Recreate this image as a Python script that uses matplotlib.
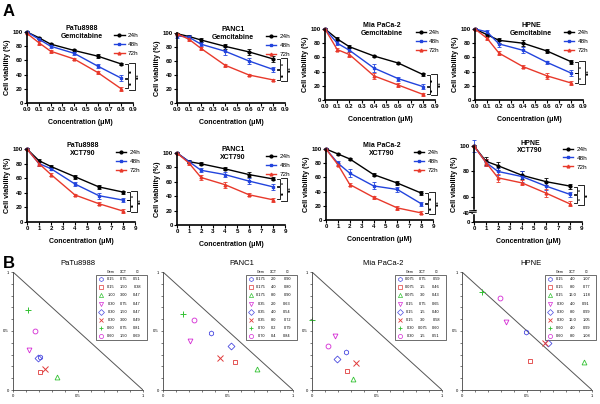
import matplotlib.pyplot as plt
from matplotlib.patches import Rectangle
import numpy as np

plt.rcParams['font.family'] = ['Liberation Sans', 'DejaVu Sans']

cells = ["PaTu8988", "PANC1", "Mia PaCa-2", "HPNE"]
times = ["24h", "48h", "72h"]

# ---- panel A data: cell viability (%) ----
gem_conc = [0, 0.1, 0.2, 0.4, 0.6, 0.8]
xct_conc = [0, 1, 2, 4, 6, 8]

# one row per cell line (PaTu8988, PANC1, Mia PaCa-2, HPNE)
gem_24h = [[100, 92, 83, 74, 66, 55],
           [99, 95, 90, 81, 73, 63],
           [100, 86, 75, 62, 52, 36],
           [100, 92, 84, 80, 69, 54]]
gem_48h = [[100, 90, 80, 70, 52, 35],
           [96, 94, 84, 74, 60, 48],
           [100, 80, 70, 45, 30, 19],
           [100, 96, 79, 70, 53, 38]]
gem_72h = [[98, 85, 73, 62, 43, 20],
           [99, 91, 78, 54, 40, 33],
           [100, 71, 64, 34, 21, 8],
           [100, 87, 66, 47, 34, 24]]
gem_24h_err = [[1, 1.5, 2, 2, 3, 2], [1, 2, 3, 4, 4, 4], [1, 3, 2, 2, 1.5, 2], [1, 3, 4, 4, 3, 3]]
gem_48h_err = [[1, 2, 2, 2.5, 3, 4], [3, 3, 3, 6, 4, 4], [1, 3, 3, 6, 3, 3], [1, 3, 4, 4, 2.5, 4]]
gem_72h_err = [[1, 3, 2, 2, 2, 2.5], [1, 2, 2, 2, 2, 2], [1, 2, 3, 4, 3, 2], [1, 3, 3, 2.5, 4, 3]]

xct_24h = [[100, 84, 76, 62, 48, 41],
           [100, 88, 85, 78, 70, 64],
           [100, 93, 86, 64, 52, 38],
           [100, 88, 84.5, 77, 72, 68.5]]
xct_48h = [[100, 80, 73, 52, 36, 30],
           [100, 88, 76, 70, 61, 53],
           [100, 80, 66, 48, 43, 23],
           [100, 87, 80, 76, 68.5, 62]]
xct_72h = [[100, 80, 65, 37, 25, 15],
           [100, 86, 66, 56, 42, 35],
           [100, 78, 50, 32, 17, 10],
           [100, 87, 75, 71, 63, 54.5]]
xct_24h_err = [[1, 2, 2, 2.5, 3, 2], [1, 2, 2, 2, 3, 2], [1, 2, 2, 2, 3, 3], [1, 3, 3, 3, 3, 2]]
xct_48h_err = [[1, 3, 2, 3, 4, 3], [1, 2, 3, 4, 4, 4], [1, 3, 6, 5, 3, 3], [5, 3, 3, 4, 3, 2]]
xct_72h_err = [[1, 3, 2, 2, 2, 3], [1, 2, 3, 4, 2, 3], [1, 2, 2, 2, 3, 2], [1, 3, 3, 2, 3, 2]]

gem_stars = [["**", "**", "***"], ["*", "**", "***"], ["**", "**", "***"], ["*", "*", "***"]]
xct_stars = [["*", "**", "***"], ["*", "**", "***"], ["**", "**", "***"], ["*", "*", "**"]]

# ---- panel B data: isobolograms ----
table_gem = [["0.15", "0.15", "1.00", "0.30", "0.30", "0.30", "0.60", "0.60"],
             ["0.175", "0.175", "0.175", "0.35", "0.35", "0.35", "0.70", "0.70"],
             ["0.075", "0.075", "0.075", "0.15", "0.15", "0.15", "0.30", "0.30"],
             ["0.15", "0.15", "0.15", "0.30", "0.30", "0.30", "0.60", "0.60"]]
table_xct = [["0.75", "1.50", "3.00", "0.75", "1.50", "3.00", "0.75", "1.50"],
             ["2.0", "4.0", "8.0", "2.0", "4.0", "8.0", "0.2", "0.4"],
             ["0.75", "1.5", "3.0", "0.75", "1.5", "3.0", "0.075", "1.5"],
             ["4.0", "8.0", "16.0", "4.0", "8.0", "16.0", "4.0", "8.0"]]
table_ci = [[0.51, 0.38, 0.47, 0.47, 0.47, 0.49, 0.81, 0.69],
            [0.90, 0.80, 0.90, 0.63, 0.54, 0.72, 0.79, 0.84],
            [0.59, 0.46, 0.43, 0.65, 0.40, 0.58, 0.60, 0.51],
            [1.07, 0.77, 1.18, 0.91, 0.99, 1.05, 0.99, 1.08]]
iso_x = [[0.21, 0.21, 0.34, 0.12, 0.19, 0.245, 0.115, 0.17],
         [0.37, 0.55, 0.72, 0.21, 0.52, 0.44, 0.15, 0.24],
         [0.26, 0.266, 0.315, 0.175, 0.19, 0.336, 0.0, 0.124],
         [0.49, 0.52, 0.94, 0.336, 0.66, 0.64, 0.155, 0.29]]
iso_y = [[0.28, 0.15, 0.11, 0.34, 0.27, 0.175, 0.68, 0.50],
         [0.48, 0.24, 0.175, 0.415, 0.376, 0.27, 0.64, 0.59],
         [0.32, 0.165, 0.09, 0.46, 0.26, 0.23, 0.59, 0.37],
         [0.49, 0.25, 0.24, 0.58, 0.40, 0.40, 0.83, 0.78]]

line_colors = ["black", "#2244dd", "#e8392b"]
line_markers = ["o", "s", "^"]
iso_markers = ["h", "s", "^", "v", "D", "x", "+", "o"]
iso_colors = ["#4a4ae0", "#e03a3a", "#33c233", "#d42ad4", "#4a4ae0", "#e03a3a", "#33c233", "#d42ad4"]

fig = plt.figure(figsize=(6, 4.04), dpi=100)


def pos(l, r, t, b):
    return [l / 600, 1 - b / 404, (r - l) / 600, (b - t) / 404]


gem_boxes = [(27, 133, 32, 103), (177, 285, 33, 103), (325, 435, 29, 100), (475, 583, 29, 100)]
xct_boxes = [(27, 135, 149, 222), (177, 285, 153, 225), (326, 433, 149, 220), (474, 582, 146, 222)]
iso_left = [13, 163, 312, 462]
iso_title_x = [0.5, 0.61, 0.55, 0.53]


def hpne_fwd(y):
    y = np.asarray(y, dtype=float)
    return np.where(y < 40, y * 7.1 / 40, np.where(y < 50, 7.1 + (y - 40) * 0.26, 9.7 + (y - 50)))


def hpne_inv(v):
    v = np.asarray(v, dtype=float)
    return np.where(v < 7.1, v * 40 / 7.1, np.where(v < 9.7, 40 + (v - 7.1) / 0.26, 50 + (v - 9.7)))


def add_brackets(ax, top, mid, bot, stars):
    tr = ax.get_yaxis_transform()
    kw = dict(color="black", lw=0.6, transform=tr, clip_on=False)
    for (y1, y2), s in zip([(top, mid), (mid, bot)], stars[:2]):
        ax.plot([0.925, 0.955, 0.955, 0.925], [y1 - 0.5, y1 - 0.5, y2 + 0.5, y2 + 0.5], **kw)
        ax.text(0.99, (y1 + y2) / 2, s, rotation=90, fontsize=3.5, ha="center", va="center",
                transform=tr, fontweight="bold")
    ax.plot([0.965, 1.02, 1.02, 0.965], [top + 1, top + 1, bot - 1, bot - 1], **kw)
    ax.text(1.06, (top + bot) / 2, stars[2], rotation=90, fontsize=3.5, ha="center", va="center",
            transform=tr, fontweight="bold")


def viability_panel(box, conc, means, errs, title, stars, xmax, xticks, xlabels, broken=False):
    ax = fig.add_axes(pos(*box))
    handles = []
    for m, e, c, mk in zip(means, errs, line_colors, line_markers):
        eb = ax.errorbar(conc, m, yerr=e, color=c, marker=mk, markersize=2, lw=1,
                         elinewidth=0.6, capsize=1.3, capthick=0.6, clip_on=False)
        handles.append(eb[0])
    if broken:
        ax.set_yscale("function", functions=(hpne_fwd, hpne_inv))
        ax.set_yticks([0, 40, 60, 80, 100])
        tr = ax.get_yaxis_transform()
        ax.plot([0, 0], [42, 47], color="white", lw=2.5, transform=tr, clip_on=False, zorder=5)
        for yb in (42, 47):
            ax.plot([-0.04, 0.02], [yb - 0.6, yb + 0.6], color="black", lw=0.8,
                    transform=tr, clip_on=False, zorder=6)
    else:
        ax.set_yticks([0, 20, 40, 60, 80, 100])
    ax.set_xlim(0, xmax)
    ax.set_ylim(0, 100)
    ax.set_xticks(xticks)
    ax.set_xticklabels(xlabels)
    ax.spines[["top", "right"]].set_visible(False)
    ax.spines[["left", "bottom"]].set_linewidth(1.2)
    ax.tick_params(length=2, width=0.8, labelsize=4.4, pad=1)
    for lab in ax.get_xticklabels() + ax.get_yticklabels():
        lab.set_fontweight("bold")
    ax.set_ylabel("Cell viability (%)", fontsize=5.2, fontweight="bold", labelpad=1.5)
    ax.set_xlabel("Concentration (\u03bcM)", fontsize=5, fontweight="bold", labelpad=5)
    ax.text(0.52, 0.99, title, transform=ax.transAxes, ha="center", va="center",
            fontsize=5, fontweight="bold", linespacing=1.1)
    ax.legend(handles, times, loc="upper left", bbox_to_anchor=(0.8, 1.03), frameon=False,
              fontsize=4.6, handlelength=1.6, handletextpad=0.5, labelspacing=0.55,
              borderaxespad=0)
    add_brackets(ax, means[0][-1], means[1][-1], means[2][-1], stars)
    return ax


fig.text(0.005, 0.99, "A", fontsize=12, fontweight="bold", va="top")
fig.text(0.005, 1 - 256 / 404, "B", fontsize=12, fontweight="bold", va="top")

gem_labels = ["0.0", "0.1", "0.2", "0.3", "0.4", "0.5", "0.6", "0.7", "0.8", "0.9"]
xct_labels = [str(i) for i in range(10)]

for i, cell in enumerate(cells):
    viability_panel(gem_boxes[i], gem_conc, [gem_24h[i], gem_48h[i], gem_72h[i]],
                    [gem_24h_err[i], gem_48h_err[i], gem_72h_err[i]],
                    cell + "\nGemcitabine", gem_stars[i], 0.9,
                    np.arange(0, 0.91, 0.1), gem_labels)
    viability_panel(xct_boxes[i], xct_conc, [xct_24h[i], xct_48h[i], xct_72h[i]],
                    [xct_24h_err[i], xct_48h_err[i], xct_72h_err[i]],
                    cell + "\nXCT790", xct_stars[i], 9, range(10), xct_labels,
                    broken=(cell == "HPNE"))

# ---- isobolograms ----
for i, cell in enumerate(cells):
    ax = fig.add_axes(pos(iso_left[i], iso_left[i] + 130, 272, 390))
    ax.plot([0, 1], [1, 0], color="#555555", lw=0.7)
    for px, py, mk, c in zip(iso_x[i], iso_y[i], iso_markers, iso_colors):
        if mk in ("x", "+"):
            ax.plot(px, py, marker=mk, color=c, markersize=4, mew=0.7, clip_on=False)
        else:
            ax.plot(px, py, marker=mk, color=c, mfc="none", markersize=3.5, mew=0.6, clip_on=False)
    ax.set_xlim(0, 1)
    ax.set_ylim(0, 1)
    ax.set_xticks([0, 0.5, 1])
    ax.set_yticks([0, 0.5, 1])
    ax.set_xticklabels(["0", "0.5", "1"])
    ax.set_yticklabels(["0", "0.5", "1"])
    ax.set_xticks(np.arange(0, 1.01, 0.1), minor=True)
    ax.set_yticks(np.arange(0, 1.01, 0.1), minor=True)
    ax.spines[["top", "right"]].set_visible(False)
    ax.spines[["left", "bottom"]].set_color("#444444")
    ax.spines[["left", "bottom"]].set_linewidth(0.6)
    ax.tick_params(which="both", length=1.5, width=0.5, labelsize=3, pad=1.5, color="#444444")
    ax.text(iso_title_x[i], 1.07, cell, transform=ax.transAxes, ha="center", va="center", fontsize=5.5)

    # CI table in the upper right corner
    x0, x1, ytop, ybot = 0.64, 1.03, 0.975, 0.42
    ax.add_patch(Rectangle((x0, ybot), x1 - x0, ytop - ybot, transform=ax.transAxes,
                           fill=False, lw=0.5, ec="#333333", clip_on=False))
    for dx, head in zip([0.115, 0.21, 0.315], ["Gem", "XCT", "CI"]):
        ax.text(x0 + dx, 0.998, head, transform=ax.transAxes, fontsize=2.6, ha="center", va="center")
    step = (ytop - ybot) / 8
    for r in range(8):
        yy = ytop - step * (r + 0.5)
        mk, c = iso_markers[r], iso_colors[r]
        if mk in ("x", "+"):
            ax.plot(x0 + 0.04, yy, marker=mk, color=c, markersize=3.4, mew=0.6,
                    transform=ax.transAxes, clip_on=False)
        else:
            ax.plot(x0 + 0.04, yy, marker=mk, color=c, mfc="none", markersize=3, mew=0.5,
                    transform=ax.transAxes, clip_on=False)
        ax.text(x0 + 0.115, yy, table_gem[i][r], transform=ax.transAxes,
                fontsize=2.8, ha="center", va="center")
        ax.text(x0 + 0.21, yy, table_xct[i][r], transform=ax.transAxes,
                fontsize=2.8, ha="center", va="center")
        ax.text(x0 + 0.315, yy, "{:.2f}".format(table_ci[i][r]), transform=ax.transAxes,
                fontsize=2.8, ha="center", va="center")

plt.savefig("out.png", dpi=100)
